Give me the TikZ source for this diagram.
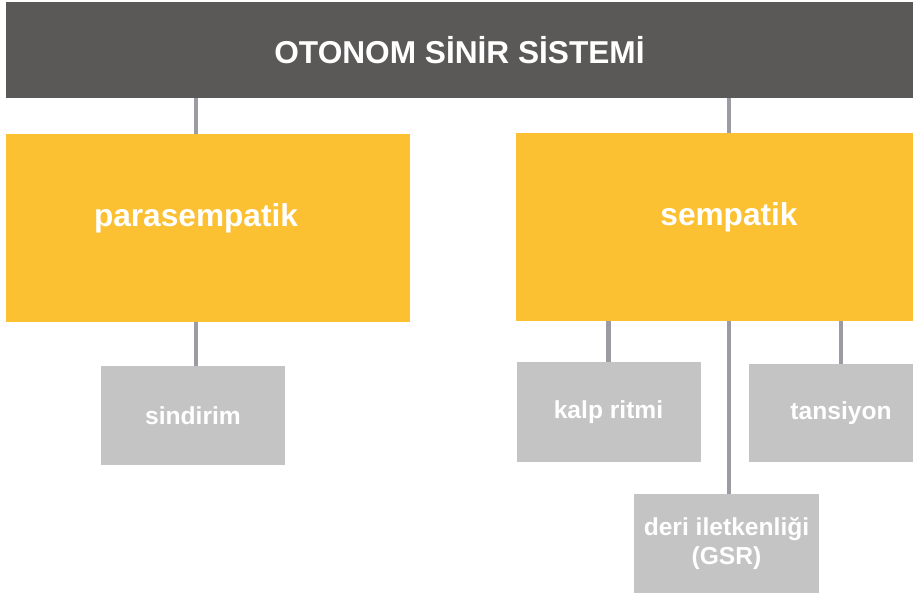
\documentclass[tikz,border=0pt]{standalone}
\usepackage{fontspec}
\setmainfont{Liberation Sans}
\usepackage{xcolor}
\usepackage{tikz}
\usetikzlibrary{positioning}

\definecolor{barGray}{RGB}{90,89,88}
\definecolor{boxYellow}{RGB}{251,193,51}
\definecolor{leafGray}{RGB}{196,196,196}
\definecolor{linkGray}{RGB}{155,155,163}

\begin{document}
\begin{tikzpicture}[
    every node/.style={inner sep=0pt, outer sep=0pt, text=white, font=\bfseries},
    topbar/.style={rectangle, fill=barGray, minimum width=18.14cm, minimum height=1.92cm, font=\bfseries\fontsize{18}{21}\selectfont},
    mainbox/.style={rectangle, fill=boxYellow, minimum height=3.76cm},
    maintext/.style={font=\bfseries\fontsize{18}{21}\selectfont},
    leafbox/.style={rectangle, fill=leafGray, minimum width=3.68cm, minimum height=1.98cm, align=center, font=\bfseries\fontsize{14}{16}\selectfont},
    link/.style={draw=linkGray, line width=2.3pt}]
    \clip (0,0) rectangle (18.26,11.9);
    \fill[white] (0,0) rectangle (18.26,11.9);

    \node[topbar] (oss) at (9.19,10.9) {OTONOM S\.{I}N\.{I}R S\.{I}STEM\.{I}};

    \node[mainbox, minimum width=8.08cm] (para) at (4.16,7.33) {};
    \node[maintext] (paratxt) at (3.92,7.53) {parasempatik};
    \node[mainbox, minimum width=8.52cm] (semp) at (14.58,7.35) {};
    \node[maintext] (semptxt) at (14.58,7.55) {sempatik};

    \node[leafbox] (sind) at (3.86,3.59) {sindirim};
    \node[leafbox, minimum height=2.0cm] (kalp) at (12.17,3.66) {kalp ritmi};
    \node[leafbox, minimum height=1.96cm] (tans) at (16.82,3.64) {tansiyon};
    \node[leafbox, minimum width=3.7cm] (deri) at (14.53,1.03) {deri iletkenliği\\(GSR)};

    % links
    \draw[link] (para.north -| paratxt) -- (oss.south -| paratxt);
    \draw[link] (semp.north) -- (semp.north |- oss.south);
    \draw[link] (sind.north -| paratxt) -- (para.south -| paratxt);
    \draw[link] (kalp.north) -- (kalp.north |- semp.south);
    \draw[link] (tans.north) -- (tans.north |- semp.south);
    \draw[link] (deri.north -| semp) -- (semp.south);
\end{tikzpicture}
\end{document}
